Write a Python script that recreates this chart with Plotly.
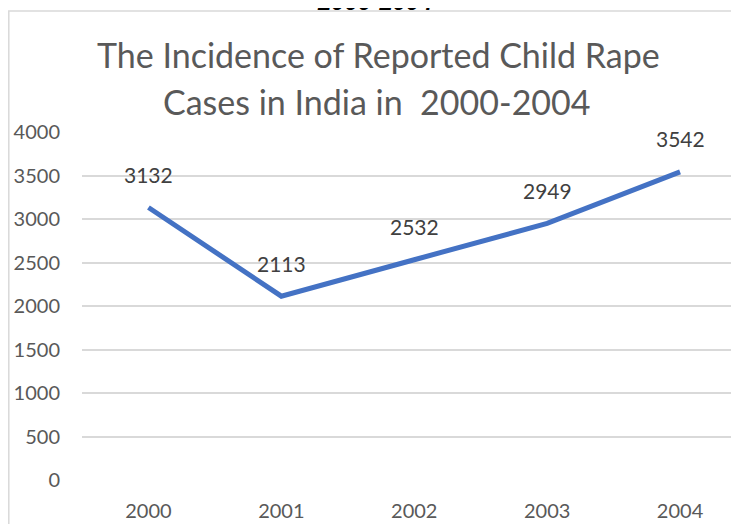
import plotly.graph_objects as go

years = ["2000", "2001", "2002", "2003", "2004"]
cases = [3132, 2113, 2532, 2949, 3542]
y_ticks = [0, 500, 1000, 1500, 2000, 2500, 3000, 3500, 4000]

OFF = 8  # page body margin
W, H = 739 - OFF, 524 - OFF
L = 82 - OFF
T = 132 - OFF
B = H - (480 - OFF)
R = 0
plot_h = H - T - B
plot_w = W - L - R
cat_step = 132.9

fig = go.Figure()
fig.add_trace(go.Scatter(
    x=years, y=cases, mode="lines",
    line=dict(color="#4472C4", width=5),
    hoverinfo="x+y", showlegend=False,
))

for i, v in enumerate(cases):
    fig.add_annotation(x=i, y=v, text=str(v), showarrow=False, yshift=33,
                       font=dict(family="Lato", size=21, color="#404040"))


def py(page_y):
    return (H - B - (page_y - OFF)) / plot_h


def px(page_x):
    return ((page_x - OFF) - L) / plot_w


# title lines
fig.add_annotation(xref="paper", yref="paper", x=px(378), y=py(54),
                   text="The Incidence of Reported Child Rape", showarrow=False,
                   xanchor="center", yanchor="middle",
                   font=dict(family="Lato", size=34, color="#595959"))
fig.add_annotation(xref="paper", yref="paper", x=px(377), y=py(102),
                   text="Cases in India in \u00a02000-2004", showarrow=False,
                   xanchor="center", yanchor="middle",
                   font=dict(family="Lato", size=34, color="#595959"))

# cropped heading above the chart frame (only its lower edge shows)
fig.add_annotation(xref="paper", yref="paper", x=px(375), y=py(1.5),
                   text="<b><i>2000-2004</i></b>", showarrow=False,
                   xanchor="center", yanchor="middle",
                   font=dict(family="Liberation Sans", size=24, color="#000000"))

# chart frame
fig.add_shape(type="rect", xref="paper", yref="paper",
              x0=px(8.8), x1=px(780),
              y0=py(580), y1=py(11),
              line=dict(color="#D9D9D9", width=1.5), layer="below")

fig.update_layout(
    width=W, height=H, autosize=False,
    margin=dict(l=L, r=R, t=T, b=B, pad=0),
    paper_bgcolor="white", plot_bgcolor="white",
    font=dict(family="Lato", color="#595959"),
    xaxis=dict(type="category", range=[-0.5, -0.5 + plot_w / cat_step],
               showgrid=False, showline=False, zeroline=False, ticks="",
               tickfont=dict(family="Lato", size=20, color="#595959"),
               ticklabelstandoff=17, fixedrange=True),
    yaxis=dict(range=[0, 4000], tickvals=y_ticks, showgrid=True,
               gridcolor="#D9D9D9", gridwidth=1.5, zeroline=False, showline=False,
               ticks="", tickfont=dict(family="Lato", size=20, color="#595959"),
               ticklabelstandoff=21, fixedrange=True),
)

fig.write_html("out.html")
